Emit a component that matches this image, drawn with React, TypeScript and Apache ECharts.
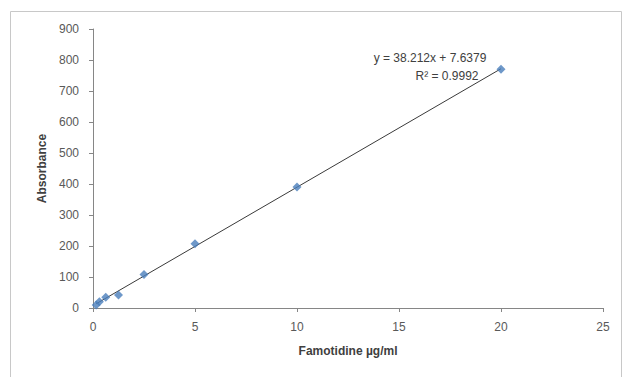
import React, { useEffect, useRef } from "react";
import * as echarts from "echarts";

const concentrations = [0.156, 0.3125, 0.625, 1.25, 2.5, 5, 10, 20];
const absorbances = [10, 20, 35, 42, 108, 207, 390, 770];
const slope = 38.212;
const intercept = 7.6379;
const equationLabel = "y = 38.212x + 7.6379";
const r2Label = "R² = 0.9992";
const xAxisName = "Famotidine µg/ml";
const yAxisName = "Absorbance";

export default function App() {
  const ref = useRef<HTMLDivElement>(null);
  useEffect(() => {
    if (!ref.current) return;
    const chart = echarts.init(ref.current, null, { renderer: "svg" });
    const xMin = concentrations[0];
    const xMax = concentrations[concentrations.length - 1];
    const trend = [
      [xMin, slope * xMin + intercept],
      [xMax, slope * xMax + intercept],
    ];
    const font = "Liberation Sans, Arial, sans-serif";
    chart.setOption({
      animation: false,
      backgroundColor: "#ffffff",
      grid: { left: 93, right: 21, top: 29, bottom: 69, containLabel: false },
      xAxis: {
        type: "value",
        min: 0,
        max: 25,
        interval: 5,
        name: xAxisName,
        nameLocation: "middle",
        nameGap: 37,
        nameTextStyle: { fontFamily: font, fontSize: 12, fontWeight: "bold", color: "#404040" },
        axisLine: { show: true, lineStyle: { color: "#868686", width: 1 } },
        axisTick: { show: true, length: 4, lineStyle: { color: "#868686" } },
        axisLabel: { fontFamily: font, fontSize: 12, color: "#595959", margin: 13 },
        splitLine: { show: false },
      },
      yAxis: {
        type: "value",
        min: 0,
        max: 900,
        interval: 100,
        name: yAxisName,
        nameLocation: "middle",
        nameGap: 45,
        nameTextStyle: { fontFamily: font, fontSize: 12, fontWeight: "bold", color: "#404040" },
        axisLine: { show: true, lineStyle: { color: "#868686", width: 1 } },
        axisTick: { show: true, length: 4, lineStyle: { color: "#868686" } },
        axisLabel: { fontFamily: font, fontSize: 12, color: "#595959", margin: 14 },
        splitLine: { show: false },
      },
      series: [
        {
          type: "line",
          data: trend,
          symbol: "none",
          lineStyle: { color: "#3a3a3a", width: 1 },
          z: 2,
        },
        {
          type: "scatter",
          data: concentrations.map((c, i) => [c, absorbances[i]]),
          symbol: "diamond",
          symbolSize: 9,
          itemStyle: { color: "#4A7EBB" },
          z: 3,
        },
      ],
      graphic: [
        {
          type: "rect",
          shape: { x: 10.5, y: 11.5, width: 611, height: 380 },
          style: { fill: "none", stroke: "#c8c8c8", lineWidth: 1 },
          silent: true,
        },
        {
          type: "text",
          x: 430,
          y: 58,
          style: {
            text: equationLabel,
            fontFamily: font,
            fontSize: 12,
            fill: "#404040",
            align: "center",
            verticalAlign: "middle",
          },
        },
        {
          type: "text",
          x: 447,
          y: 76,
          style: {
            text: r2Label,
            fontFamily: font,
            fontSize: 12,
            fill: "#404040",
            align: "center",
            verticalAlign: "middle",
          },
        },
      ],
    });
    return () => chart.dispose();
  }, []);
  return (
    <div
      ref={ref}
      style={{ position: "fixed", left: 0, top: 0, width: 624, height: 377 }}
    />
  );
}
